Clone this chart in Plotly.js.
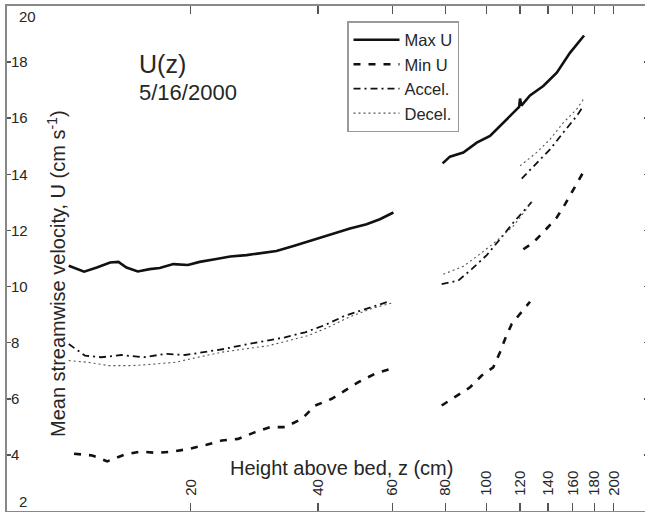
<!DOCTYPE html>
<html>
<head>
<meta charset="utf-8">
<script src="https://cdn.plot.ly/plotly-3.0.1.min.js"></script>
<style>html,body{margin:0;padding:0;background:#fff;overflow:hidden;}#chart{width:648px;height:512px;}</style>
</head>
<body>
<div id="chart"></div>
<script>
// ---- data (z in cm, U in cm/s); null separates measurement segments ----
const maxU_z = [10.3,11.2,12.0,12.9,13.5,14.1,15.0,16.0,16.9,18.2,19.7,21.0,23.0,24.8,27.1,29.2,31.9,35.0,38.3,41.9,45.1,47.6,52.1,56.0,60.3,
  null,
  78.8,82.0,88.2,94.9,102.0,109.6,117.9,119.5,120.1,121.0,126.8,136.3,146.7,157.6,170.2];
const maxU_u = [10.74,10.53,10.68,10.86,10.88,10.68,10.54,10.62,10.66,10.80,10.77,10.88,10.98,11.07,11.12,11.19,11.27,11.45,11.63,11.81,11.95,12.07,12.22,12.40,12.64,
  null,
  14.39,14.63,14.78,15.13,15.37,15.84,16.34,16.40,16.70,16.45,16.81,17.15,17.62,18.33,18.95];

const minU_z = [10.6,11.7,12.7,13.9,15.2,16.6,18.2,19.9,21.8,23.7,25.9,28.4,30.8,33.4,36.6,39.4,43.1,46.3,49.8,54.5,59.2,
  null,
  78.4,82.8,91.5,97.5,103.8,107.7,110.7,114.8,121.2,126.8,
  null,
  122.3,129.1,138.9,146.7,153.5,166.4,168.9];
const minU_u = [4.04,3.98,3.77,4.00,4.12,4.07,4.12,4.22,4.36,4.51,4.57,4.81,4.99,4.99,5.28,5.76,6.00,6.29,6.59,6.89,7.06,
  null,
  5.76,6.00,6.41,6.83,7.12,7.66,8.13,8.67,9.08,9.46,
  null,
  11.33,11.57,12.07,12.46,12.94,13.83,14.04];

const accel_z = [10.3,11.25,12.3,13.7,15.5,17.4,19.4,21.6,24.1,26.9,30.0,33.4,37.3,41.6,46.3,51.7,58.6,
  null,
  78.4,85.8,92.3,100.2,107.7,115.8,125.7,128.0,
  null,
  121.2,131.5,141.4,152.0,163.5,169.5];
const accel_u = [7.95,7.54,7.48,7.56,7.48,7.60,7.56,7.68,7.78,7.93,8.07,8.19,8.37,8.63,8.96,9.20,9.46,
  null,
  10.09,10.21,10.62,11.12,11.69,12.28,12.88,13.02,
  null,
  13.85,14.42,14.89,15.49,16.08,16.43];

const decel_z = [10.3,11.45,12.8,14.5,16.5,18.4,20.8,23.7,26.9,30.5,34.0,37.9,42.3,47.2,53.6,59.7,
  null,
  79.1,88.2,96.6,105.8,115.8,128.0,
  null,
  120.1,131.5,141.4,152.0,163.5,169.5];
const decel_u = [7.36,7.30,7.18,7.18,7.24,7.30,7.48,7.66,7.78,7.89,8.07,8.25,8.55,8.90,9.22,9.41,
  null,
  10.44,10.72,11.16,11.63,12.16,13.00,
  null,
  14.30,14.78,15.25,15.84,16.32,16.67];

const seriesNames = ['Max U','Min U','Accel.','Decel.'];
const xTickVals = [20,40,60,80,100,120,140,160,180,200];
const xTickText = ['20','40','60','80','100','120','140','160','180','200'];
const yTickVals = [2,4,6,8,10,12,14,16,18,20];
const yTickText = ['2','4','6','8','10','12','14','16','18','20'];
const annoTitle = 'U(z)';
const annoDate = '5/16/2000';
const xTitle = 'Height above bed, z (cm)';
const yTitle = 'Mean streamwise velocity, U (cm s<sup>-1</sup>)';

// ---- layout helpers (pixel -> paper); right frame edge lies just past the visible window ----
const W = 648, H = 512, ML = 7, MR = 0, MT = 6, MB = 1;
const PW = W - ML - MR, PH = H - MT - MB;
const px = x => (x - ML) / PW;
const py = y => (H - MB - y) / PH;

const FONT = '"Liberation Sans", Arial, Helvetica, sans-serif';
const TXT = '#262626';

const traces = [
  {x: maxU_z, y: maxU_u, name: seriesNames[0], mode: 'lines', connectgaps: false,
   line: {color: '#111', width: 2.6, dash: 'solid'}},
  {x: minU_z, y: minU_u, name: seriesNames[1], mode: 'lines', connectgaps: false,
   line: {color: '#111', width: 2.6, dash: '7px,8px'}},
  {x: accel_z, y: accel_u, name: seriesNames[2], mode: 'lines', connectgaps: false,
   line: {color: '#111', width: 1.8, dash: '7px,4px,2px,4px'}},
  {x: decel_z, y: decel_u, name: seriesNames[3], mode: 'lines', connectgaps: false,
   line: {color: '#555', width: 1.1, dash: '2px,3px'}}
];

// inner y tick labels (the end labels sit inside the frame corners, drawn as annotations)
const innerY = yTickVals.slice(1, -1), innerYText = yTickText.slice(1, -1);

const annotations = [
  {text: annoTitle, xref: 'paper', yref: 'paper', x: px(137), y: py(64), xanchor: 'left', yanchor: 'middle',
   showarrow: false, font: {family: FONT, size: 25, color: TXT}},
  {text: annoDate, xref: 'paper', yref: 'paper', x: px(137), y: py(92), xanchor: 'left', yanchor: 'middle',
   showarrow: false, font: {family: FONT, size: 22, color: TXT}},
  {text: xTitle, xref: 'paper', yref: 'paper', x: px(341), y: py(468), xanchor: 'center', yanchor: 'middle',
   showarrow: false, font: {family: FONT, size: 20, color: TXT}},
  {text: yTitle, xref: 'paper', yref: 'paper', x: px(56), y: py(274), xanchor: 'center', yanchor: 'middle',
   textangle: -90, showarrow: false, font: {family: FONT, size: 20, color: TXT}},
  {text: yTickText[yTickText.length - 1], xref: 'paper', yref: 'paper', x: px(17), y: py(16.5), xanchor: 'left', yanchor: 'middle',
   showarrow: false, font: {family: FONT, size: 15, color: TXT}},
  {text: yTickText[0], xref: 'paper', yref: 'paper', x: px(17), y: py(501), xanchor: 'left', yanchor: 'middle',
   showarrow: false, font: {family: FONT, size: 15, color: TXT}}
];

const layout = {
  width: W, height: H,
  margin: {l: ML, r: MR, t: MT, b: MB, pad: 0},
  paper_bgcolor: '#fff', plot_bgcolor: '#fff',
  font: {family: FONT, color: TXT},
  showlegend: true,
  legend: {x: px(347), y: py(21), xanchor: 'left', yanchor: 'top',
    bgcolor: '#fff', bordercolor: '#999', borderwidth: 1.5,
    font: {family: FONT, size: 16.5, color: TXT}, itemwidth: 46, tracegroupgap: 0},
  xaxis: {type: 'log', range: [Math.log10(7.36), Math.log10(241)],
    tickmode: 'array', tickvals: xTickVals, ticktext: xTickText,
    ticks: 'inside', ticklen: 8, tickwidth: 1.5, tickcolor: '#555',
    tickangle: -90, ticklabelposition: 'inside', ticklabelstandoff: 2,
    tickfont: {family: FONT, size: 15, color: TXT},
    showline: true, linecolor: '#888', linewidth: 2, mirror: 'ticks',
    showgrid: false, zeroline: false},
  yaxis: {range: [2, 20],
    tickmode: 'array', tickvals: innerY, ticktext: innerYText,
    tickprefix: '\u00a0\u00a0',
    ticks: 'inside', ticklen: 4, tickwidth: 1.5, tickcolor: '#555',
    ticklabelposition: 'inside',
    tickfont: {family: FONT, size: 15, color: TXT},
    showline: true, linecolor: '#888', linewidth: 2, mirror: 'ticks',
    showgrid: false, zeroline: false},
  annotations: annotations
};

Plotly.newPlot('chart', traces, layout, {displayModeBar: false, staticPlot: true});
</script>
</body>
</html>
